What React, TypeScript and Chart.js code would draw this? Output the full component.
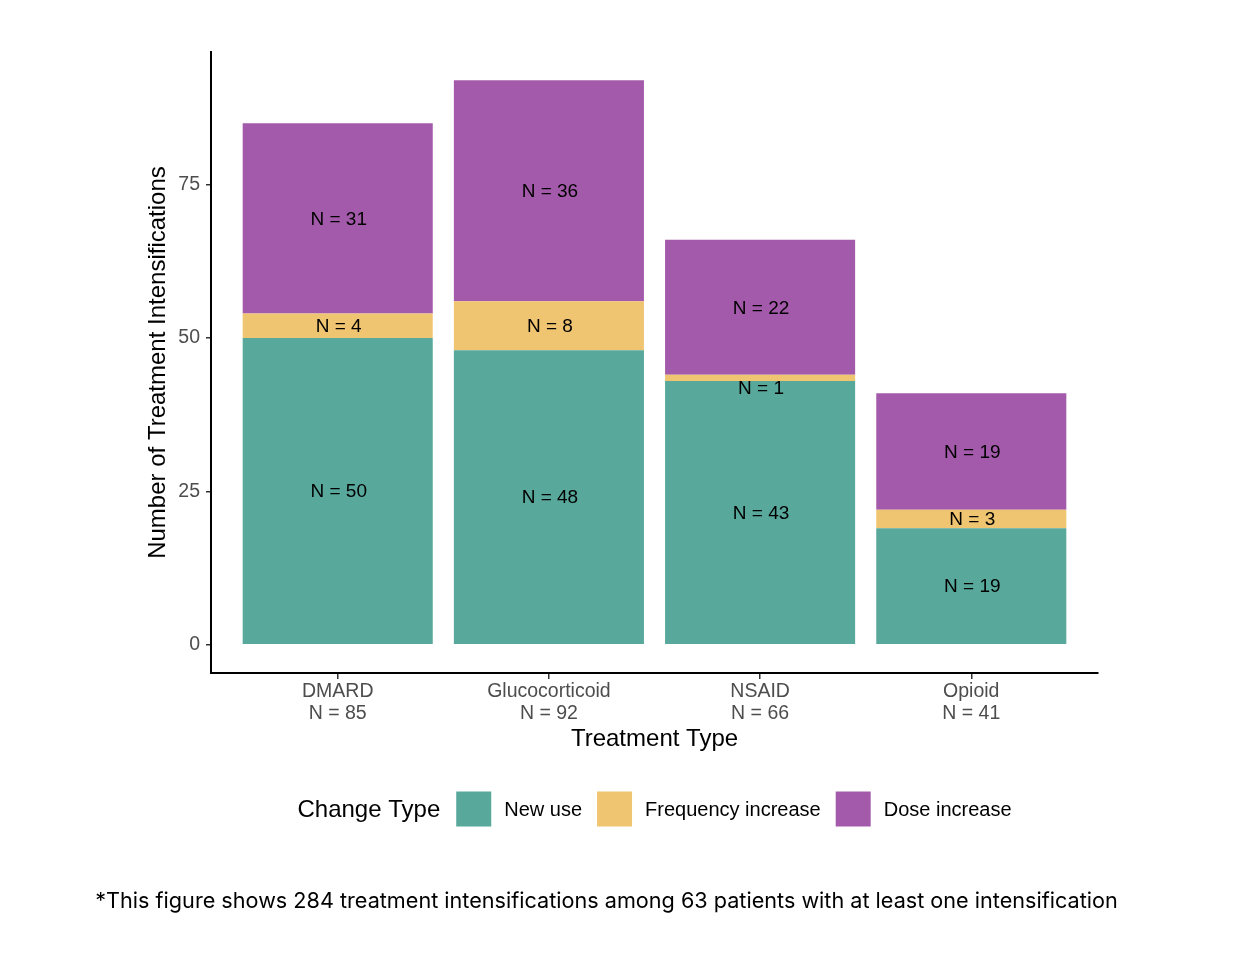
import React, { useEffect, useRef } from "react";
import { Chart, registerables } from "chart.js";

Chart.register(...registerables);

const categories = ["DMARD", "Glucocorticoid", "NSAID", "Opioid"];
const categoryTotals = [85, 92, 66, 41];
const newUse = [50, 48, 43, 19];
const frequencyIncrease = [4, 8, 1, 3];
const doseIncrease = [31, 36, 22, 19];
const seriesNames = ["New use", "Frequency increase", "Dose increase"];
const seriesColors = ["#58A89B", "#F0C571", "#A45AAA"];
const yTicks = [0, 25, 50, 75];
const legendTitle = "Change Type";
const xTitle = "Treatment Type";
const yTitle = "Number of Treatment Intensifications";
const footnote =
  "*This figure shows 284 treatment intensifications among 63 patients with at least one intensification";

const FONT = "'Liberation Sans', Arial, sans-serif";

export default function App() {
  const ref = useRef<HTMLCanvasElement | null>(null);

  useEffect(() => {
    if (!ref.current) return;
    const seriesValues = [newUse, frequencyIncrease, doseIncrease];

    const barLabels = {
      id: "barLabels",
      afterDatasetsDraw(chart: any) {
        const ctx = chart.ctx;
        ctx.save();
        ctx.font = `19px ${FONT}`;
        ctx.fillStyle = "#000";
        ctx.textAlign = "center";
        ctx.textBaseline = "middle";
        chart.data.datasets.forEach((ds: any, di: number) => {
          const meta = chart.getDatasetMeta(di);
          meta.data.forEach((el: any, i: number) => {
            const v = ds.data[i].y;
            const top = Math.min(el.y, el.base);
            const bottom = Math.max(el.y, el.base);
            let cy = (top + bottom) / 2 + 1;
            if (bottom - top < 10) cy = bottom + 8;
            ctx.fillText(`N = ${v}`, el.x + 1, cy);
          });
        });
        ctx.restore();
      },
    };

    const extras = {
      id: "extras",
      afterDraw(chart: any) {
        const ctx = chart.ctx;
        const area = chart.chartArea;
        ctx.save();
        // legend
        const titleFont = `24px ${FONT}`;
        const labelFont = `20px ${FONT}`;
        const box = 35;
        const gapTitle = 16;
        const gapBoxLabel = 13;
        const gapItem = 15;
        ctx.font = titleFont;
        const tw = ctx.measureText(legendTitle).width;
        ctx.font = labelFont;
        const lw = seriesNames.map((n) => ctx.measureText(n).width);
        let total = tw + gapTitle;
        lw.forEach((w, i) => {
          total += box + gapBoxLabel + w + (i < lw.length - 1 ? gapItem : 0);
        });
        const cy = 809;
        let x = (area.left + area.right) / 2 - total / 2;
        ctx.textBaseline = "middle";
        ctx.textAlign = "left";
        ctx.fillStyle = "#000";
        ctx.font = titleFont;
        ctx.fillText(legendTitle, x, cy + 1);
        x += tw + gapTitle;
        ctx.font = labelFont;
        seriesNames.forEach((n, i) => {
          ctx.fillStyle = seriesColors[i];
          ctx.fillRect(x, cy - box / 2, box, box);
          x += box + gapBoxLabel;
          ctx.fillStyle = "#000";
          ctx.fillText(n, x, cy + 1);
          x += lw[i] + gapItem;
        });
        // footnote
        const targetW = 1023;
        ctx.font = `20px Inter, sans-serif`;
        const w20 = ctx.measureText(footnote).width;
        const size = (20 * targetW) / w20;
        ctx.font = `${size}px Inter, sans-serif`;
        ctx.textAlign = "center";
        ctx.fillStyle = "#000";
        ctx.fillText(footnote, 606.5, 901);
        ctx.restore();
      },
    };

    const chart = new Chart(ref.current, {
      type: "bar",
      data: {
        datasets: seriesValues.map((vals, si) => ({
          label: seriesNames[si],
          data: vals.map((v, i) => ({ x: i + 1, y: v })),
          backgroundColor: seriesColors[si],
          borderWidth: 0,
          barPercentage: 0.9,
          categoryPercentage: 1.0,
        })),
      },
      options: {
        animation: false,
        responsive: true,
        maintainAspectRatio: false,
        layout: { padding: { left: 0, top: 52, right: 150, bottom: 0 } },
        plugins: {
          legend: { display: false },
          tooltip: { enabled: false },
        },
        scales: {
          x: {
            type: "linear",
            stacked: true,
            offset: false,
            min: 0.4,
            max: 4.6,
            afterBuildTicks: (axis: any) => {
              axis.ticks = categories.map((_, i) => ({ value: i + 1 }));
            },
            afterFit: (axis: any) => {
              axis.height = 287;
            },
            ticks: {
              autoSkip: false,
              maxRotation: 0,
              padding: 2,
              color: "#4D4D4D",
              font: { family: FONT, size: 19.5, lineHeight: 1.1 },
              callback: (v: any) => {
                const i = Math.round(Number(v)) - 1;
                if (i < 0 || i >= categories.length) return "";
                return [categories[i], `N = ${categoryTotals[i]}`];
              },
            },
            grid: {
              display: true,
              offset: false,
              drawOnChartArea: false,
              drawTicks: true,
              tickLength: 6,
              color: "#333",
              lineWidth: 1.5,
            },
            border: { display: true, color: "#000", width: 2 },
            title: {
              display: true,
              text: xTitle,
              color: "#000",
              font: { family: FONT, size: 24, lineHeight: 1.2 },
              padding: { top: 0, bottom: 206.6 },
            },
          },
          y: {
            stacked: true,
            min: -4.6,
            max: 96.6,
            afterBuildTicks: (axis: any) => {
              axis.ticks = yTicks.map((v) => ({ value: v }));
            },
            afterFit: (axis: any) => {
              axis.width = 211;
            },
            ticks: {
              padding: 6,
              color: "#4D4D4D",
              font: { family: FONT, size: 19.5 },
            },
            grid: {
              display: true,
              drawOnChartArea: false,
              drawTicks: true,
              tickLength: 5,
              color: "#333",
              lineWidth: 1.5,
            },
            border: { display: true, color: "#000", width: 2 },
            title: {
              display: true,
              text: yTitle,
              color: "#000",
              font: { family: FONT, size: 24, lineHeight: 1.2 },
              padding: { top: 143.6, bottom: 0 },
            },
          },
        },
      },
      plugins: [barLabels, extras],
    });
    return () => chart.destroy();
  }, []);

  return (
    <div style={{ position: "absolute", left: 0, top: 0, width: 1248, height: 960, background: "#fff" }}>
      <canvas ref={ref} />
    </div>
  );
}
